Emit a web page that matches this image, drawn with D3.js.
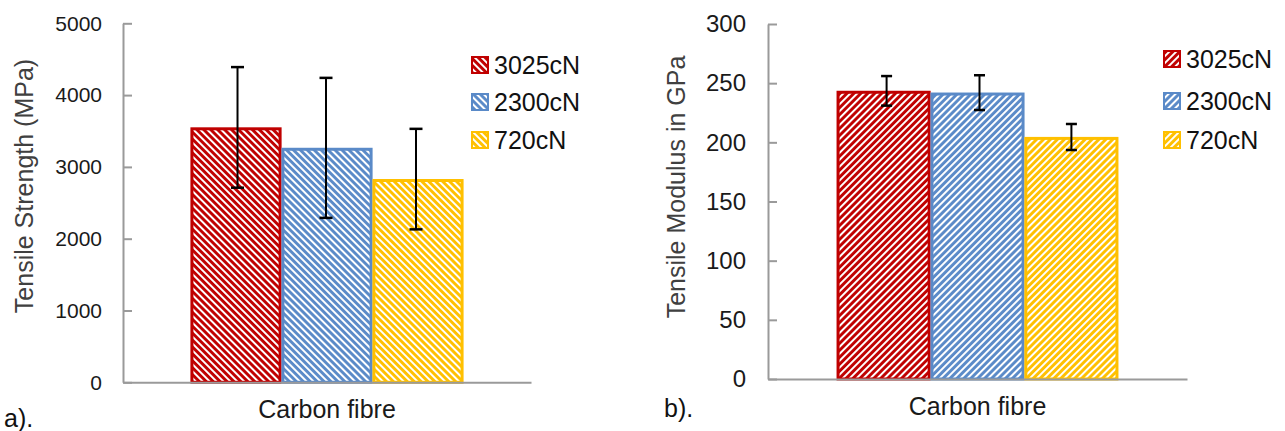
<!DOCTYPE html>
<html>
<head>
<meta charset="utf-8">
<script src="https://cdn.jsdelivr.net/npm/d3@7"></script>
<style>
  html, body { margin: 0; padding: 0; background: #fff; }
  svg { display: block; font-family: "Liberation Sans", Arial, sans-serif; }
</style>
</head>
<body>
<svg id="chart" width="1285" height="431"></svg>
<script>
// Fibre test results at three winding tensions
const categories = ["Carbon fibre"];
const series = ["3025cN", "2300cN", "720cN"];
const colors = ["#C00000", "#5A8AC8", "#FFC000"];

// a) tensile strength (MPa)
const strengthMean = [3550, 3265, 2830];
const strengthErr  = [840, 975, 700];
const strengthTicks = [0, 1000, 2000, 3000, 4000, 5000];

// b) tensile modulus (GPa)
const modulusMean = [243.5, 242, 204.5];
const modulusErr  = [12.5, 14.7, 11];
const modulusTicks = [0, 50, 100, 150, 200, 250, 300];

const svg = d3.select("#chart");
const defs = svg.append("defs");

// Diagonal hatch fills, one per series and direction
function hatch(id, color, angle) {
  const s = 4.9;
  const p = defs.append("pattern")
    .attr("id", id)
    .attr("patternUnits", "userSpaceOnUse")
    .attr("width", s).attr("height", s)
    .attr("patternTransform", `rotate(${angle})`);
  p.append("rect").attr("width", s).attr("height", s).attr("fill", color);
  p.append("rect").attr("x", 0).attr("width", 2.0).attr("height", s).attr("fill", "#fff");
}
series.forEach((s, i) => {
  hatch(`hatchA${i}`, colors[i], -45);
  hatch(`hatchB${i}`, colors[i], 45);
});

function panel(cfg) {
  const g = svg.append("g");

  const y = d3.scaleLinear().domain(cfg.domain).range([cfg.y0, cfg.y1]);
  const x0 = d3.scaleBand().domain(categories).range([cfg.x0, cfg.x1]);
  const x1 = d3.scaleBand().domain(series).range([0, x0.bandwidth()])
    .paddingInner(0).paddingOuter(cfg.outer);

  // value axis with inward ticks
  const yAxis = g.append("g")
    .attr("transform", `translate(${cfg.x0},0)`)
    .call(d3.axisLeft(y).tickValues(cfg.ticks).tickSizeInner(-9).tickSizeOuter(0)
      .tickPadding(cfg.tickPad).tickFormat(d3.format("d")));
  yAxis.select(".domain").attr("stroke", "#9a9a9a").attr("stroke-width", 2);
  yAxis.selectAll(".tick line").attr("stroke", "#9a9a9a").attr("stroke-width", 2);
  yAxis.selectAll(".tick text").attr("font-size", cfg.tickFont).attr("fill", "#1a1a1a")
    .attr("font-family", "Liberation Sans, Arial, sans-serif");

  // bars
  const bars = g.append("g");
  series.forEach((s, i) => {
    const bx = x0(categories[0]) + x1(s);
    const bw = x1.bandwidth();
    bars.append("rect")
      .attr("x", bx + 1.4).attr("y", y(cfg.mean[i]) + 1.4)
      .attr("width", bw - 2.8).attr("height", y(0) - y(cfg.mean[i]) - 1.4)
      .attr("fill", `url(#${cfg.pat}${i})`)
      .attr("stroke", colors[i]).attr("stroke-width", 3);
  });

  // category axis
  const xAxis = g.append("g")
    .attr("transform", `translate(0,${cfg.y0})`)
    .call(d3.axisBottom(x0).tickSize(0).tickSizeOuter(0).tickPadding(cfg.catPad));
  xAxis.select(".domain").attr("stroke", "#9a9a9a").attr("stroke-width", 2);
  xAxis.selectAll(".tick text").attr("font-size", 25).attr("fill", "#1a1a1a")
    .attr("font-family", "Liberation Sans, Arial, sans-serif");

  // error bars
  const eb = g.append("g").attr("stroke", "#000").attr("stroke-width", 2);
  series.forEach((s, i) => {
    const cx = x0(categories[0]) + x1(s) + x1.bandwidth() / 2 + cfg.errShift[i];
    const hi = y(cfg.mean[i] + cfg.err[i]);
    const lo = y(cfg.mean[i] - cfg.err[i]);
    eb.append("line").attr("x1", cx).attr("x2", cx).attr("y1", hi).attr("y2", lo);
    eb.append("line").attr("x1", cx - cfg.cap).attr("x2", cx + cfg.cap).attr("y1", hi).attr("y2", hi)
      .attr("stroke-width", 2.5);
    eb.append("line").attr("x1", cx - cfg.cap).attr("x2", cx + cfg.cap).attr("y1", lo).attr("y2", lo)
      .attr("stroke-width", 2.5);
  });

  // axis title
  g.append("text")
    .attr("transform", `translate(${cfg.titleX},${cfg.titleY}) rotate(-90)`)
    .attr("text-anchor", "middle")
    .attr("font-size", 25).attr("fill", "#404040")
    .text(cfg.title);

  // legend
  const lg = g.append("g");
  series.forEach((s, i) => {
    const ly = cfg.legendY[i];
    lg.append("rect")
      .attr("x", cfg.legendX).attr("y", ly - 8)
      .attr("width", 16).attr("height", 16)
      .attr("fill", `url(#${cfg.pat}${i})`)
      .attr("stroke", colors[i]).attr("stroke-width", 2);
    lg.append("text")
      .attr("x", cfg.legendX + 22).attr("y", ly + 9)
      .attr("font-size", 25).attr("fill", "#111")
      .text(s);
  });

  // panel tag
  g.append("text")
    .attr("x", cfg.tagX).attr("y", cfg.tagY)
    .attr("font-size", 25).attr("fill", "#111")
    .text(cfg.tag);
}

panel({
  domain: [0, 5000], ticks: strengthTicks, mean: strengthMean, err: strengthErr,
  x0: 123, x1: 531, y0: 382.3, y1: 23.3, outer: 0.742,
  tickPad: 21, tickFont: 21, catPad: 18, pat: "hatchA", cap: 6.5,
  errShift: [1.5, -1, -2],
  title: "Tensile Strength (MPa)", titleX: 33, titleY: 186,
  legendX: 472, legendY: [65, 102, 140],
  tag: "a).", tagX: 4, tagY: 427
});

panel({
  domain: [0, 300], ticks: modulusTicks, mean: modulusMean, err: modulusErr,
  x0: 768, x1: 1187, y0: 379, y1: 24, outer: 0.731,
  tickPad: 22, tickFont: 24, catPad: 18, pat: "hatchB", cap: 5.5,
  errShift: [3, 2, 0],
  title: "Tensile Modulus in GPa", titleX: 685, titleY: 187,
  legendX: 1164, legendY: [59, 101, 140],
  tag: "b).", tagX: 664, tagY: 417
});
</script>
</body>
</html>
